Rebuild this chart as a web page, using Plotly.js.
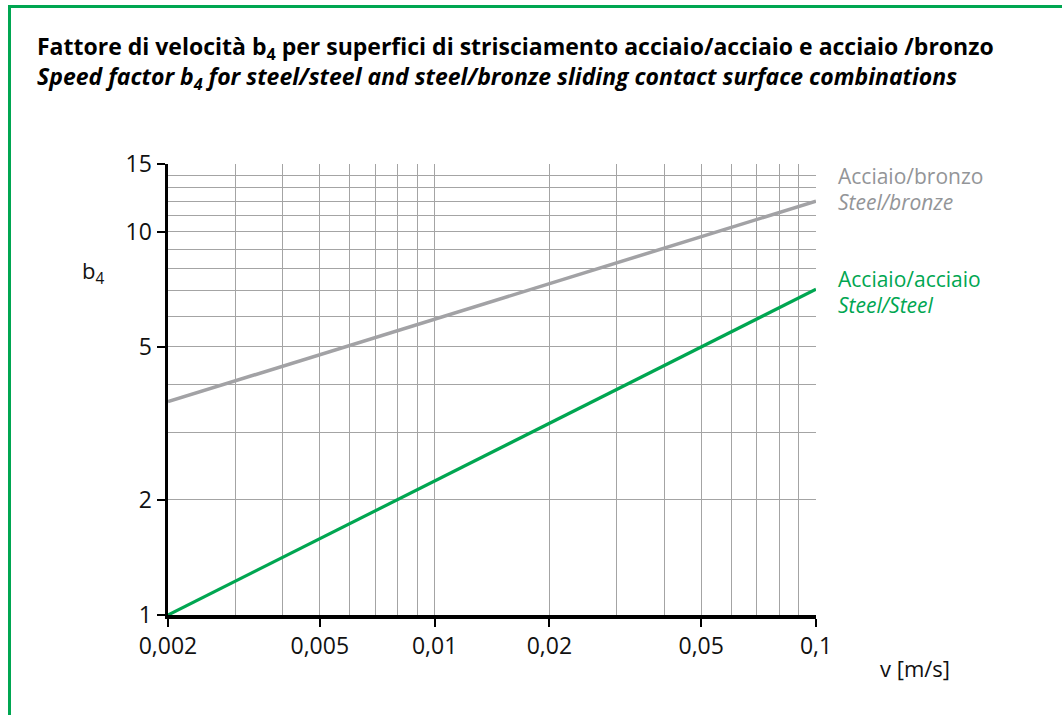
<!DOCTYPE html>
<html>
<head>
<meta charset="utf-8">
<script src="https://cdn.plot.ly/plotly-3.0.1.min.js"></script>
<style>
  html, body { margin: 0; padding: 0; background: #fff; }
  #wrap { position: relative; width: 1062px; height: 715px; overflow: hidden; }
  #chart { position: absolute; left: 0; top: 0; width: 1062px; height: 715px; }
  #frame { position: absolute; left: 8px; top: 5px; width: 1200px; height: 900px;
           border-left: 3px solid #00a651; border-top: 3px solid #00a651; pointer-events: none; }
</style>
</head>
<body>
<div id="wrap">
  <div id="chart"></div>
  <div id="frame"></div>
</div>
<script>
// ---- data ----
const speedSteelSteel = [0.002, 0.1];          // v [m/s]
const b4SteelSteel    = [1.0, 7.07];
const speedSteelBronze = [0.002, 0.1];
const b4SteelBronze    = [3.6, 12.0];

const xTickVals = [0.002, 0.005, 0.01, 0.02, 0.05, 0.1];
const xTickText = ['0,002', '0,005', '0,01', '0,02', '0,05', '0,1'];
const xGridVals = [0.002, 0.003, 0.004, 0.005, 0.006, 0.007, 0.008, 0.009, 0.01,
                   0.02, 0.03, 0.04, 0.05, 0.06, 0.07, 0.08, 0.09, 0.1];
const yTickVals = [1, 2, 5, 10, 15];
const yTickText = ['1', '2', '5', '10', '15'];
const yGridVals = [1, 2, 3, 4, 5, 6, 7, 8, 9, 10, 11, 12, 13, 14, 15];

const titleIt = 'Fattore di velocità b<sub>4</sub> per superfici di strisciamento acciaio/acciaio e acciaio /bronzo';
const titleEn = 'Speed factor b<sub>4</sub> for steel/steel and steel/bronze sliding contact surface combinations';

// ---- layout geometry ----
const L = 168, R = 816, T = 164, B = 615, W = 1062, H = 715;
const px = x => (x - L) / (R - L);
const py = y => (B - y) / (B - T);

const GREEN = '#00a651', GREY_LINE = '#a2a2a5', GREY_TEXT = '#939598', GRID = '#a4a4a4';
const FONT = 'Open Sans, Noto Sans, sans-serif';

const traces = [
  { x: speedSteelBronze, y: b4SteelBronze, mode: 'lines', type: 'scatter',
    line: { color: GREY_LINE, width: 3.5 }, name: 'Acciaio/bronzo', hoverinfo: 'x+y' },
  { x: speedSteelSteel, y: b4SteelSteel, mode: 'lines', type: 'scatter',
    line: { color: GREEN, width: 3.2 }, name: 'Acciaio/acciaio', hoverinfo: 'x+y' }
];

const ann = (text, x, y, opts = {}) => Object.assign({
  text, xref: 'paper', yref: 'paper', x: px(x), y: py(y),
  xanchor: 'left', yanchor: 'middle', showarrow: false,
  font: { family: FONT, size: 21, color: '#111' }
}, opts);

const layout = {
  width: W, height: H,
  margin: { l: L, r: W - R, t: T, b: H - B, pad: 0 },
  paper_bgcolor: '#fff', plot_bgcolor: '#fff',
  showlegend: false,
  font: { family: FONT, size: 21, color: '#111' },
  xaxis: {
    type: 'log', range: [Math.log10(0.002), Math.log10(0.1)],
    tickmode: 'array', tickvals: xTickVals, ticktext: xTickText,
    ticks: 'outside', ticklen: 8, tickwidth: 2, tickcolor: '#000',
    showline: true, linecolor: '#000', linewidth: 3.5, mirror: false,
    showgrid: false, zeroline: false,
    tickfont: { family: FONT, size: 23, color: '#111' },
    minor: { tickmode: 'array', tickvals: xGridVals, showgrid: true,
             gridcolor: GRID, gridwidth: 1, ticks: '' }
  },
  yaxis: {
    type: 'log', range: [0, Math.log10(15)],
    tickmode: 'array', tickvals: yTickVals, ticktext: yTickText,
    ticks: 'outside', ticklen: 8, tickwidth: 2, tickcolor: '#000',
    showline: true, linecolor: '#000', linewidth: 3.5, mirror: false,
    showgrid: false, zeroline: false,
    tickfont: { family: FONT, size: 23, color: '#111' },
    minor: { tickmode: 'array', tickvals: yGridVals, showgrid: true,
             gridcolor: GRID, gridwidth: 1, ticks: '' }
  },
  annotations: [
    ann('<b>' + titleIt + '<br><i>' + titleEn + '</i></b>', 35, 62,
        { align: 'left', font: { family: FONT, size: 23, color: '#000' } }),
    ann('b<sub>4</sub>', 80, 272, { font: { family: FONT, size: 22, color: '#111' } }),
    ann('v [m/s]', 878, 668, { font: { family: FONT, size: 22, color: '#111' } }),
    ann('Acciaio/bronzo', 836, 176, { font: { family: FONT, size: 21, color: GREY_TEXT } }),
    ann('<i>Steel/bronze</i>', 836, 202, { font: { family: FONT, size: 21, color: GREY_TEXT } }),
    ann('Acciaio/acciaio', 836, 279, { font: { family: FONT, size: 21, color: GREEN } }),
    ann('<i>Steel/Steel</i>', 836, 305, { font: { family: FONT, size: 21, color: GREEN } })
  ]
};

Plotly.newPlot('chart', traces, layout, { displayModeBar: false, staticPlot: true });
</script>
</body>
</html>
